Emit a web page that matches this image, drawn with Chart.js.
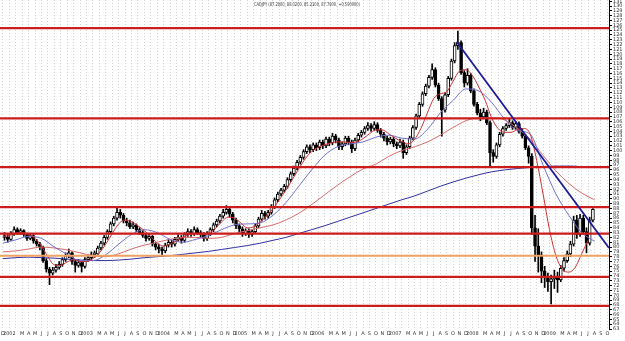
<!DOCTYPE html>
<html><head><meta charset="utf-8">
<script src="https://cdn.jsdelivr.net/npm/chart.js@4.4.0/dist/chart.umd.min.js"></script>
<style>html,body{margin:0;padding:0;background:#fff}canvas{display:block}</style>
</head><body>
<canvas id="c" width="625" height="341"></canvas>
<script>
// ---------- DATA ----------
const titleText = 'CADJPY (87.2000, 88.0200, 85.2100, 87.7900, +0.590000)';
const monthInitials = ['J','F','M','A','M','J','J','A','S','O','N','D'];
const firstMonth = {year: 2001, month: 11}; // Dec 2001 = month 0 on the axis
const monthCount = 95;

// half-monthly candles (open, high, low, close)
const opens = [82.4,82.0,81.6,82.8,83.6,83.0,83.4,82.6,81.8,82.4,81.2,80.6,80.0,77.2,75.4,74.6,75.2,75.8,76.4,77.4,78.2,78.8,77.0,76.2,76.8,76.0,77.4,77.8,78.4,78.6,79.8,80.8,82.0,83.2,84.8,86.0,87.2,86.6,85.4,85.0,84.2,84.6,83.6,83.0,82.4,81.8,82.2,80.6,80.0,79.6,79.2,80.4,81.0,80.6,81.6,82.0,81.4,82.6,83.2,82.8,83.6,83.0,82.6,81.8,82.8,83.6,84.6,85.4,86.4,87.2,87.8,86.8,85.6,84.4,83.8,82.8,83.4,82.6,83.2,84.4,85.8,87.0,86.4,87.2,88.4,89.8,91.0,91.8,92.6,94.0,95.2,96.4,97.6,98.6,99.8,100.8,100.2,101.2,100.6,101.8,101.0,102.4,101.6,103.0,102.2,100.8,101.4,102.6,101.8,100.4,102.2,103.2,103.8,104.6,105.2,104.6,105.4,104.2,103.4,102.6,101.8,102.4,101.4,101.0,101.8,99.6,100.8,102.6,104.8,107.2,109.6,111.8,113.4,115.2,116.8,113.6,110.8,108.4,111.6,115.0,118.6,121.8,122.4,116.2,114.0,115.6,112.4,109.6,107.8,107.0,108.0,105.8,99.6,98.8,101.2,103.4,104.6,105.2,105.8,104.8,105.6,104.0,103.0,100.6,98.8,84.0,80.2,78.4,75.0,73.6,72.8,73.4,74.0,73.2,75.6,77.2,78.6,80.6,85.6,82.6,86.0,83.2,80.8,85.6];
const highs = [83.0,82.6,83.2,84.2,84.0,83.8,83.6,82.9,82.8,82.6,81.6,81.0,80.2,77.6,75.8,75.8,76.4,77.0,77.8,78.8,79.6,79.0,77.4,77.4,77.2,77.8,78.4,79.0,79.2,80.2,81.2,82.4,83.6,85.2,86.4,88.2,87.8,87.0,86.0,85.6,85.2,84.8,84.0,83.4,82.8,82.8,82.4,81.0,80.6,80.0,80.8,81.6,81.4,82.0,82.6,82.4,83.0,83.8,83.6,84.2,84.0,83.4,83.0,83.2,84.0,85.0,85.8,86.8,87.8,88.6,88.2,87.2,86.0,84.8,84.2,83.8,83.8,83.6,84.8,86.2,87.6,87.4,87.6,88.8,90.2,91.4,92.2,93.0,94.4,95.6,96.8,98.0,99.0,100.2,101.2,101.2,101.6,101.6,102.2,102.2,102.8,102.8,103.6,103.4,102.6,101.8,103.0,103.0,102.2,102.6,103.6,104.2,105.0,105.8,105.6,106.0,105.8,104.6,103.8,103.0,102.8,102.8,101.8,102.4,102.2,101.2,103.0,105.2,107.6,110.0,112.2,113.8,115.6,118.0,117.2,114.0,111.2,112.0,115.4,119.0,122.4,124.8,122.8,116.6,117.0,116.0,112.8,110.0,108.6,108.8,108.4,106.2,100.2,101.6,103.8,105.0,105.6,106.6,106.2,106.0,106.0,104.4,103.4,101.0,99.4,86.6,83.8,79.0,76.0,74.6,74.2,75.2,74.8,76.2,77.8,79.2,81.2,86.4,86.6,86.8,86.6,84.0,86.2,88.0];
const lows = [81.4,81.0,81.4,82.4,82.6,82.6,82.2,81.4,81.5,80.8,80.2,79.4,76.8,74.8,72.2,74.2,74.8,75.4,76.0,77.0,77.8,76.4,74.8,75.8,74.8,75.6,77.0,77.4,77.8,78.2,79.4,80.4,81.6,82.8,84.4,85.6,86.0,85.0,84.4,83.8,83.8,83.2,82.6,82.0,81.2,81.4,80.2,79.4,78.8,78.0,78.8,80.0,80.0,80.2,81.2,80.8,81.0,82.2,82.2,82.4,82.6,82.0,81.2,81.4,82.4,83.2,84.2,85.0,86.0,86.8,86.2,85.0,83.8,83.2,82.2,82.4,82.0,82.2,82.8,84.0,85.4,85.8,86.0,86.8,88.0,89.4,90.6,91.4,92.2,93.6,94.8,96.0,97.2,98.2,99.4,99.6,99.8,100.0,100.2,100.4,100.6,101.0,101.2,101.6,100.2,100.2,101.0,101.2,99.6,100.0,101.8,102.8,103.4,104.2,104.0,104.2,103.8,102.8,102.0,101.2,101.4,100.8,100.4,100.6,98.4,99.2,100.4,102.2,104.4,106.8,109.2,111.4,113.0,114.8,113.2,110.4,103.0,108.0,111.2,114.6,118.2,121.0,115.8,113.2,113.6,112.0,109.2,107.4,106.2,106.6,105.4,96.8,97.6,98.4,100.8,103.0,104.2,104.8,104.4,104.4,103.6,102.6,100.2,97.4,82.6,77.0,74.8,72.6,71.6,70.8,68.2,71.4,70.6,72.8,75.0,76.8,78.0,80.2,81.8,82.2,82.6,78.8,80.4,85.2];
const closes = [82.0,81.6,82.8,83.6,83.0,83.4,82.6,81.8,82.4,81.2,80.6,80.0,77.2,75.4,74.6,75.2,75.8,76.4,77.4,78.2,78.8,77.0,76.2,76.8,76.0,77.4,77.8,78.4,78.6,79.8,80.8,82.0,83.2,84.8,86.0,87.2,86.6,85.4,85.0,84.2,84.6,83.6,83.0,82.4,81.8,82.2,80.6,80.0,79.6,79.2,80.4,81.0,80.6,81.6,82.0,81.4,82.6,83.2,82.8,83.6,83.0,82.6,81.8,82.8,83.6,84.6,85.4,86.4,87.2,87.8,86.8,85.6,84.4,83.8,82.8,83.4,82.6,83.2,84.4,85.8,87.0,86.4,87.2,88.4,89.8,91.0,91.8,92.6,94.0,95.2,96.4,97.6,98.6,99.8,100.8,100.2,101.2,100.6,101.8,101.0,102.4,101.6,103.0,102.2,100.8,101.4,102.6,101.8,100.4,102.2,103.2,103.8,104.6,105.2,104.6,105.4,104.2,103.4,102.6,101.8,102.4,101.4,101.0,101.8,99.6,100.8,102.6,104.8,107.2,109.6,111.8,113.4,115.2,116.8,113.6,110.8,108.4,111.6,115.0,118.6,121.8,122.4,116.2,114.0,115.6,112.4,109.6,107.8,107.0,108.0,105.8,99.6,98.8,101.2,103.4,104.6,105.2,105.8,104.8,105.6,104.0,103.0,100.6,98.8,84.0,80.2,78.4,75.0,73.6,72.8,73.4,74.0,73.2,75.6,77.2,78.6,80.6,85.6,82.6,86.0,83.2,80.8,85.6,87.8];

// moving averages (fast one read monthly, slower ones every two months)
const fastMA = [82.2,82.4,82.9,83.0,82.6,81.8,80.2,78.0,76.3,76.2,76.9,77.4,77.0,77.0,77.6,78.8,80.6,82.8,84.8,85.6,85.3,84.4,83.4,82.2,80.8,80.2,80.6,81.3,82.0,82.6,82.8,82.6,82.9,83.8,85.2,86.2,86.0,85.0,84.0,84.2,85.2,86.4,88.0,89.8,91.8,94.0,96.2,98.3,99.8,100.7,101.2,101.6,101.8,101.8,101.7,101.8,102.5,103.5,104.3,104.3,103.5,102.6,101.9,101.4,102.3,104.6,107.8,110.8,111.8,112.2,114.4,116.5,116.8,115.6,113.2,110.4,106.8,104.6,103.8,103.8,104.4,104.6,103.4,98.0,91.0,83.6,78.2,75.4,74.8,75.8,78.6,81.4];
const midMA  = [80.8,81.5,82.2,81.8,80.0,78.5,77.2,77.2,78.4,80.6,82.6,83.6,83.0,81.6,81.0,81.6,82.4,83.6,84.6,84.8,85.0,86.6,89.2,92.6,96.0,99.0,100.8,101.4,101.8,102.8,103.2,102.6,102.4,104.4,107.8,110.4,112.8,112.4,110.0,106.6,104.2,103.4,97.0,91.0,86.6,83.0,81.2];
const slowMA = [79.0,79.2,79.6,80.0,79.8,79.4,78.8,78.2,78.0,78.6,79.6,80.4,81.0,81.6,82.0,82.0,81.8,82.0,82.8,83.4,84.0,84.6,85.6,87.0,88.8,90.8,92.8,94.6,96.2,97.2,98.8,100.0,100.8,101.8,103.2,104.8,106.2,106.8,106.8,106.4,104.6,102.4,99.0,95.8,93.2,91.2,89.8];
const longMA = [77.6,77.8,77.9,77.8,77.7,77.5,77.3,77.2,77.2,77.3,77.5,77.8,78.0,78.2,78.5,78.8,79.1,79.5,79.9,80.3,80.8,81.4,82.0,82.8,83.6,84.4,85.3,86.2,87.1,88.0,88.9,89.8,90.6,91.6,92.6,93.5,94.3,95.0,95.6,96.0,96.3,96.5,96.7,96.8,96.8,96.7,96.6];

// horizontal support / resistance levels and trend line
const redLevels = [125.4, 106.7, 96.6, 88.3, 82.8, 73.8, 67.8];
const orangeLevels = [78.2];
const trendLine = [[70.55, 122.6], [94.25, 79.8]];

// ---------- CHART ----------
const X_MIN = -0.45, X_MAX = 94.25;
const candleX = i => 0.25 + 0.5 * i;
const wickData = lows.map((l, i) => ({x: candleX(i), y: [l, highs[i]]}));
const bodyData = opens.map((o, i) => ({x: candleX(i), y: [Math.min(o, closes[i]), Math.max(o, closes[i]) + (Math.abs(o - closes[i]) < 0.2 ? 0.2 : 0)]}));
const bodyColors = opens.map((o, i) => closes[i] >= o ? '#ffffff' : '#000000');
const lineData = (arr, step) => arr.map((v, i) => ({x: i * step, y: v}));
const levelData = v => [{x: X_MIN, y: v}, {x: X_MAX, y: v}];

const datasets = [
  {type: 'bar', data: wickData, backgroundColor: '#000', barThickness: 1, grouped: false, order: 20},
  {type: 'bar', data: bodyData, backgroundColor: bodyColors, borderColor: '#000', borderWidth: 1, borderSkipped: false, barThickness: 3, grouped: false, order: 19},
  {type: 'line', data: lineData(longMA, 2), borderColor: '#3030a0', borderWidth: 1, pointRadius: 0, cubicInterpolationMode: 'monotone', order: 8},
  {type: 'line', data: lineData(slowMA, 2), borderColor: '#d86a6a', borderWidth: 1, pointRadius: 0, cubicInterpolationMode: 'monotone', order: 7},
  {type: 'line', data: lineData(midMA, 2), borderColor: '#7070d0', borderWidth: 1, pointRadius: 0, cubicInterpolationMode: 'monotone', order: 6},
  {type: 'line', data: lineData(fastMA, 1), borderColor: '#d03030', borderWidth: 1, pointRadius: 0, cubicInterpolationMode: 'monotone', order: 5},
];
orangeLevels.forEach(v => datasets.push({type: 'line', data: levelData(v), borderColor: '#f0a060', borderWidth: 2, pointRadius: 0, order: 3}));
redLevels.forEach(v => datasets.push({type: 'line', data: levelData(v), borderColor: '#cc1c1c', borderWidth: 2.3, pointRadius: 0, order: 2}));
datasets.push({type: 'line', data: trendLine.map(p => ({x: p[0], y: p[1]})), borderColor: '#1c1c98', borderWidth: 1.8, pointRadius: 0, order: 1});

const monthTicks = Array.from({length: monthCount}, (_, i) => i);
function monthLabel(m) {
  const abs = firstMonth.month + m;
  const mon = abs % 12;
  const yr = firstMonth.year + Math.floor(abs / 12);
  if (mon === 0) return String(yr);
  if (mon === 1) return '';
  return monthInitials[mon];
}

const titlePlugin = {
  id: 'titleText',
  afterDraw(chart) {
    const c = chart.ctx;
    c.save();
    c.font = '5px "DejaVu Sans"';
    const w = c.measureText(titleText).width;
    const target = 106;
    c.translate(307, 5);
    c.scale(target / w, 1);
    c.fillStyle = '#333';
    c.textAlign = 'center';
    c.textBaseline = 'middle';
    c.fillText(titleText, 0, 0);
    c.restore();
  }
};

new Chart(document.getElementById('c'), {
  type: 'bar',
  data: {datasets},
  plugins: [titlePlugin],
  options: {
    responsive: false, animation: false, devicePixelRatio: 1,
    layout: {padding: 0},
    plugins: {legend: {display: false}, tooltip: {enabled: false}},
    scales: {
      x: {
        type: 'linear', min: X_MIN, max: X_MAX, offset: false,
        grid: {display: true, offset: false, color: '#d2d2d2', lineWidth: 1, drawTicks: false},
        border: {display: false, dash: [1, 2]},
        ticks: {autoSkip: false, maxRotation: 0, minRotation: 0, padding: 2, color: '#333',
                font: {size: 5, family: 'DejaVu Sans'}, callback: v => monthLabel(v)},
        afterBuildTicks: s => { s.ticks = monthTicks.map(v => ({value: v})); },
        afterFit: s => { s.height = 12; s.paddingLeft = 0; s.paddingRight = 0; }
      },
      y: {
        type: 'linear', position: 'right', min: 63, max: 131.25,
        grid: {display: true, drawOnChartArea: false, drawTicks: true, tickLength: 3, color: '#000'},
        border: {display: true, color: '#000'},
        ticks: {stepSize: 1, autoSkip: false, includeBounds: false, padding: 1, color: '#333',
                font: {size: 5, family: 'DejaVu Sans'}},
        afterFit: s => { s.width = 16; s.paddingTop = 0; s.paddingBottom = 0; }
      }
    }
  }
});
</script>
</body></html>
